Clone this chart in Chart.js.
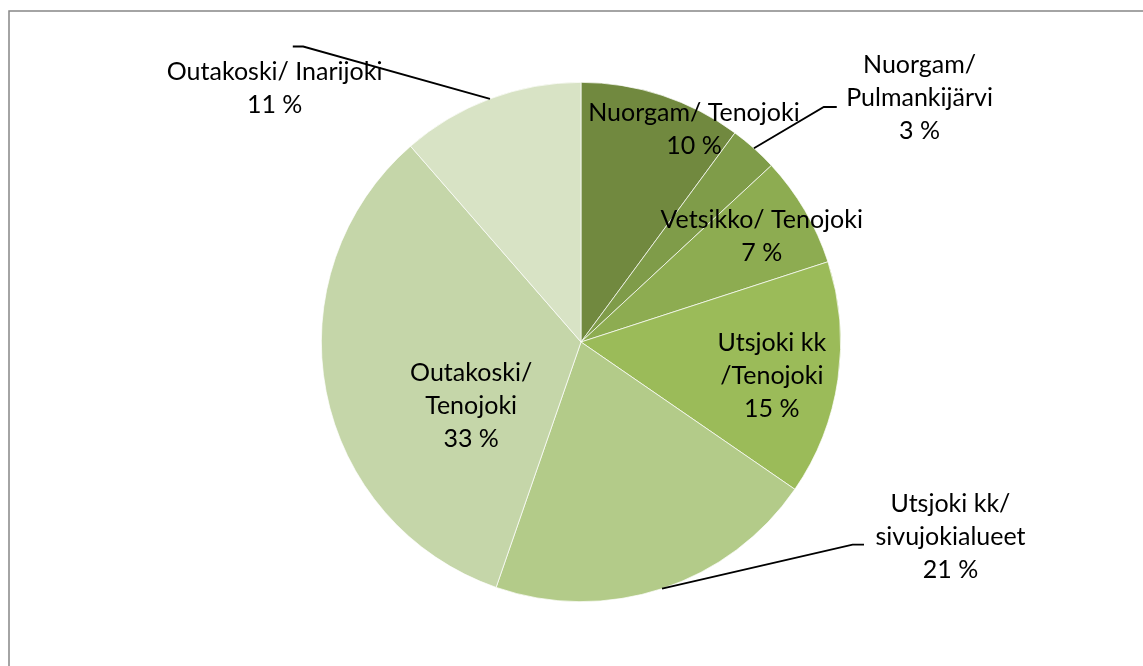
<!doctype html>
<html lang="fi">
<head>
  <meta charset="UTF-8">
  <title>Pie</title>
  <script src="https://cdn.jsdelivr.net/npm/chart.js@4.4.0/dist/chart.umd.min.js"></script>
  <style>
    html, body { margin: 0; padding: 0; background: #fff; }
    #wrap { width: 1143px; height: 666px; }
  </style>
</head>
<body>
  <div id="wrap"><canvas id="canvas" width="1143" height="666"></canvas></div>
  <script>
    // data
    const labels = [
      ['Nuorgam/ Tenojoki'],
      ['Nuorgam/', 'Pulmankijärvi'],
      ['Vetsikko/ Tenojoki'],
      ['Utsjoki kk', '/Tenojoki'],
      ['Utsjoki kk/', 'sivujokialueet'],
      ['Outakoski/', 'Tenojoki'],
      ['Outakoski/ Inarijoki']
    ];
    const values = [10.1, 3.0, 6.9, 14.6, 20.7, 33.3, 11.4];
    const percentText = ['10 %', '3 %', '7 %', '15 %', '21 %', '33 %', '11 %'];
    const colors = ['#71893f', '#7f9c49', '#8dac51', '#9bbb59', '#b3cb89', '#c5d6a9', '#d8e3c5'];

    // label placement, in radius units from the pie centre
    // leader: elbow and end of the leader line (null = label sits inside)
    const labelPos = [
      { x: 0.435, y: -0.82, leader: null },
      { x: 1.304, y: -0.94, leader: [[0.935, -0.905], [0.985, -0.905]] },
      { x: 0.696, y: -0.408, leader: null },
      { x: 0.735, y: 0.131, leader: null },
      { x: 1.423, y: 0.752, leader: [[1.046, 0.78], [1.09, 0.78]] },
      { x: -0.423, y: 0.246, leader: null },
      { x: -1.18, y: -0.975, leader: [[-1.07, -1.138], [-1.11, -1.138]] }
    ];

    const FONT = '25px Lato, "Open Sans", sans-serif';
    const LINE = 33;

    const frame = {
      id: 'frame',
      beforeDraw(chart) {
        const ctx = chart.ctx;
        ctx.save();
        ctx.strokeStyle = '#878787';
        ctx.lineWidth = 1.5;
        ctx.strokeRect(9, 11, 1300, 800);
        ctx.restore();
      }
    };

    const pieLabels = {
      id: 'pieLabels',
      afterDatasetsDraw(chart) {
        const ctx = chart.ctx;
        const meta = chart.getDatasetMeta(0);
        ctx.save();
        ctx.font = FONT;
        ctx.fillStyle = '#000';
        ctx.textAlign = 'center';
        ctx.textBaseline = 'middle';
        meta.data.forEach((arc, i) => {
          const p = arc.getProps(['x', 'y', 'startAngle', 'endAngle', 'outerRadius'], true);
          const r = p.outerRadius;
          const pos = labelPos[i];
          if (pos.leader) {
            const mid = (p.startAngle + p.endAngle) / 2;
            ctx.beginPath();
            ctx.strokeStyle = '#000';
            ctx.lineWidth = 1.8;
            ctx.moveTo(p.x + Math.cos(mid) * r, p.y + Math.sin(mid) * r);
            pos.leader.forEach(pt => ctx.lineTo(p.x + pt[0] * r, p.y + pt[1] * r));
            ctx.stroke();
          }
          const lines = labels[i].concat([percentText[i]]);
          const cx = p.x + pos.x * r;
          const cy = p.y + pos.y * r;
          const top = cy - (lines.length - 1) * LINE / 2;
          lines.forEach((t, k) => ctx.fillText(t, cx, top + k * LINE));
        });
        ctx.restore();
      }
    };

    new Chart(document.getElementById('canvas'), {
      type: 'pie',
      data: {
        labels: labels.map(l => l.join(' ')),
        datasets: [{
          data: values,
          backgroundColor: colors,
          borderColor: '#ffffff',
          borderWidth: 0.7
        }]
      },
      options: {
        responsive: false,
        animation: false,
        layout: { padding: { left: 321, right: 302, top: 82, bottom: 64 } },
        plugins: {
          legend: { display: false },
          tooltip: { enabled: false }
        }
      },
      plugins: [frame, pieLabels]
    });
  </script>
</body>
</html>
